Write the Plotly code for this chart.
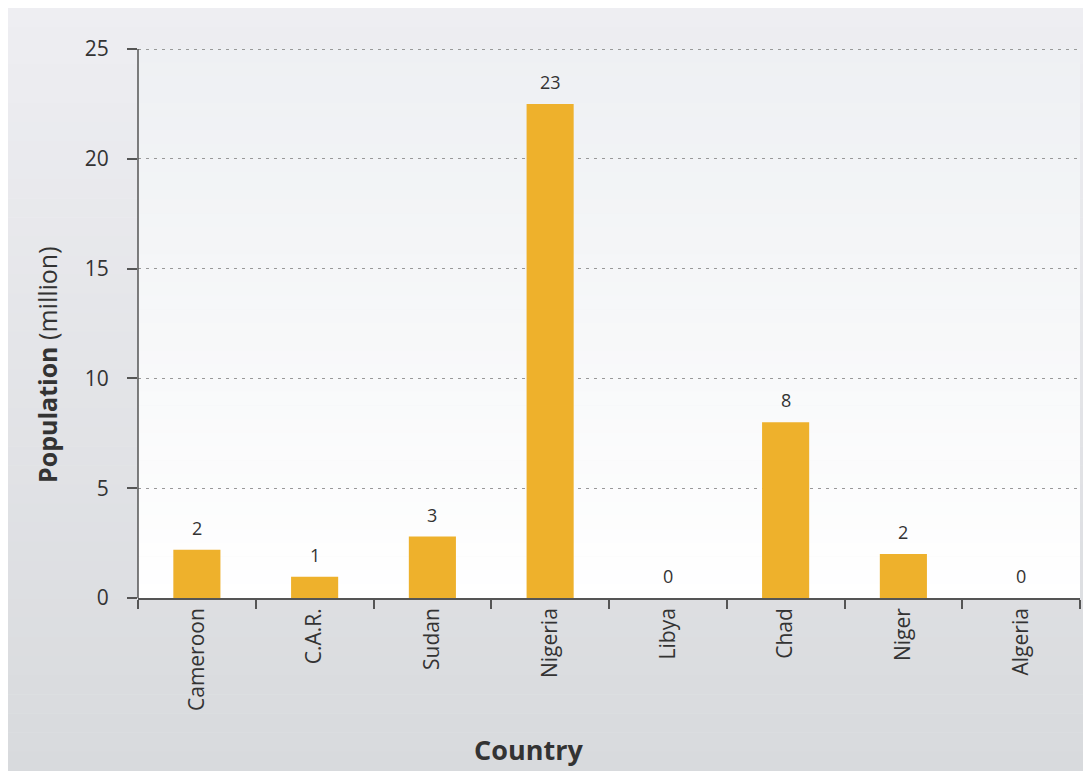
import plotly.graph_objects as go

countries = ["Cameroon", "C.A.R.", "Sudan", "Nigeria", "Libya", "Chad", "Niger", "Algeria"]
population = [2.2, 0.97, 2.8, 22.5, 0, 8.0, 2.0, 0]
labels = ["2", "1", "3", "23", "0", "8", "2", "0"]
y_ticks = [0, 5, 10, 15, 20, 25]

# page body has an 8px margin; figure is sized to fill the rest of the window
OFF = 8
W, H = 1091 - OFF, 771 - OFF
ml, mr, mt, mb = 138 - OFF, 11, 38, 173
pw, ph = W - ml - mr, H - mt - mb
y_top = 25 * ph / 549.0   # keeps 0..25 spanning 549 px, so the 25 grid line is drawn

def px_x(x):  # window pixel -> paper x
    return (x - 138) / pw

def px_y(y):  # window pixel -> paper y
    return (598 - y) / ph

def lerp(c1, c2, t):
    return "rgb(%d,%d,%d)" % tuple(round(a + (b - a) * t) for a, b in zip(c1, c2))

shapes = []
N = 40
y_lo, y_hi = -mb / ph, 1 + mt / ph
x_lo, x_hi = -ml / pw, 1 + mr / pw
top_out, bot_out = (238, 238, 242), (216, 218, 221)
for i in range(N):
    t0, t1 = i / N, (i + 1) / N
    shapes.append(dict(type="rect", xref="paper", yref="paper",
                       x0=x_lo, x1=x_hi,
                       y0=y_hi - (y_hi - y_lo) * t1, y1=y_hi - (y_hi - y_lo) * t0 + 0.001,
                       fillcolor=lerp(top_out, bot_out, (t0 + t1) / 2),
                       line=dict(width=0), layer="below"))
top_in, bot_in = (238, 240, 243), (255, 255, 255)
p_top = px_y(49)
for i in range(N):
    t0, t1 = i / N, (i + 1) / N
    shapes.append(dict(type="rect", xref="paper", yref="paper",
                       x0=0, x1=1, y0=p_top * (1 - t1), y1=p_top * (1 - t0) + 0.001,
                       fillcolor=lerp(top_in, bot_in, (t0 + t1) / 2),
                       line=dict(width=0), layer="below"))

font_fam = "Open Sans, Noto Sans, sans-serif"
txt = "#333333"

fig = go.Figure(go.Bar(
    x=countries, y=population,
    marker=dict(color="#EEB12C", line=dict(width=0)),
    width=0.4, hoverinfo="x+y",
))

annotations = [
    dict(x=c, y=v, text=t, xref="x", yref="y", showarrow=False,
         yanchor="bottom", yshift=8, font=dict(size=18, color=txt))
    for c, v, t in zip(countries, population, labels)
]
annotations += [
    dict(text="<b>Country</b>", xref="paper", yref="paper",
         x=px_x(528), y=px_y(750), showarrow=False,
         xanchor="center", yanchor="middle", font=dict(size=27, color=txt)),
    dict(text="<b>Population</b> (million)", xref="paper", yref="paper",
         x=px_x(47), y=px_y(365), showarrow=False, textangle=-90,
         xanchor="center", yanchor="middle", font=dict(size=25, color=txt)),
]

fig.update_layout(
    width=W, height=H,
    margin=dict(l=ml, r=mr, t=mt, b=mb, autoexpand=False),
    paper_bgcolor="rgba(0,0,0,0)", plot_bgcolor="rgba(0,0,0,0)",
    shapes=shapes, showlegend=False,
    font=dict(family=font_fam, color=txt),
    bargap=0.6,
    annotations=annotations,
)
fig.update_xaxes(
    showline=True, linecolor="#555555", linewidth=1.5,
    ticks="outside", tickson="boundaries", ticklen=9, tickcolor="#555555", tickwidth=1.5,
    tickangle=-90, tickfont=dict(size=21, color=txt),
    showgrid=False,
)
fig.update_yaxes(
    range=[0, y_top], tickvals=y_ticks, showline=False,
    ticks="outside", ticklen=10, tickcolor="#555555", tickwidth=1.5,
    tickfont=dict(size=21, color=txt), ticklabelstandoff=14,
    showgrid=True, gridcolor="#999999", griddash="3px,5px", gridwidth=1,
    zeroline=False,
)
# y axis line from 0 to 25 only (as in the reference)
fig.add_shape(type="line", xref="paper", yref="y", x0=0, x1=0, y0=0, y1=y_ticks[-1],
              line=dict(color="#555555", width=1.5))

fig.write_html("out.html")
